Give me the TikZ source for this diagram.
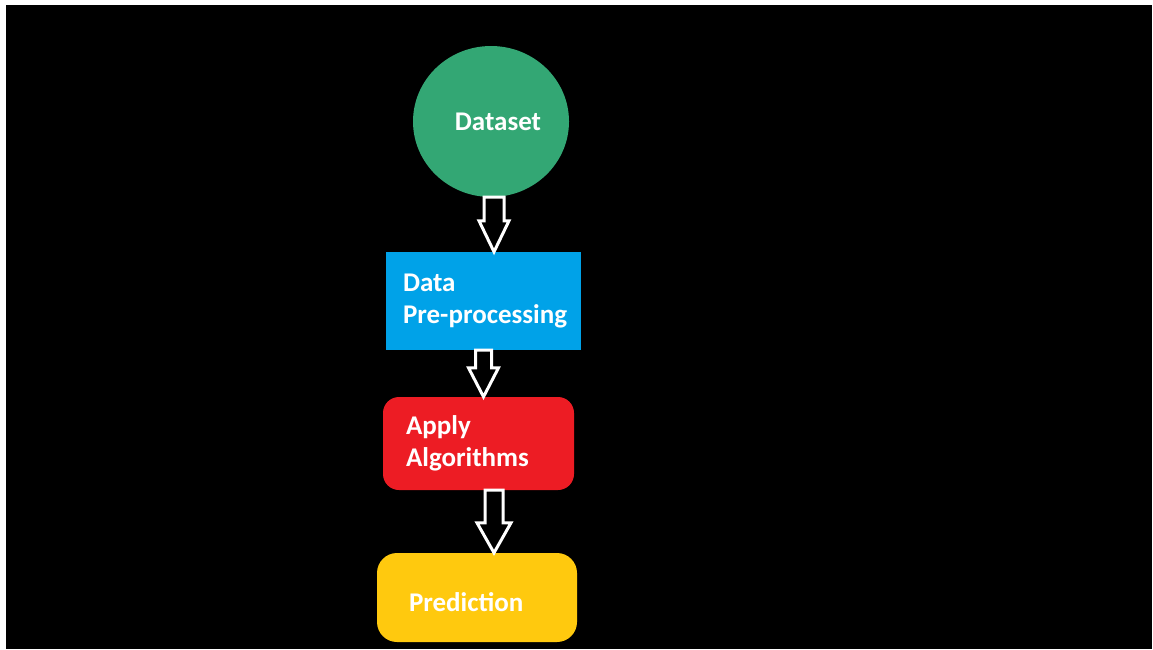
\documentclass[tikz,border=0pt]{standalone}
\usepackage{fontspec}
\setmainfont{Carlito}
\usepackage{tikz}
\usetikzlibrary{shapes.geometric,calc}

\definecolor{dsgreen}{RGB}{51,167,116}
\definecolor{ppblue}{RGB}{0,162,232}
\definecolor{alred}{RGB}{237,28,36}
\definecolor{prdyellow}{RGB}{255,201,14}

\tikzset{
  boxtext/.style={text=white,font=\fontsize{27}{32}\selectfont\bfseries,inner sep=0pt},
  blockarr/.style={draw=white,fill=black,line width=3pt,line join=miter}
}

% block arrow: from node, to node, x offset, shaft half width, head half width, head length
\newcommand{\blockarrow}[6]{%
  \draw[blockarr] let \p1=(#1), \p2=(#2) in
    (\x1+#3-#4,\y1) -- (\x1+#3-#4,\y2+#6) -- (\x1+#3-#5,\y2+#6) -- (\x1+#3,\y2)
    -- (\x1+#3+#5,\y2+#6) -- (\x1+#3+#4,\y2+#6) -- (\x1+#3+#4,\y1) -- cycle;
}

\begin{document}
\begin{tikzpicture}[x=1pt,y=-1pt]
\useasboundingbox (0,0) rectangle (1153,649);
\fill[white] (0,0) rectangle (1153,649);
\fill[black] (6,5) rectangle (1152,649);

%Shape: Circle
\node (ds) [ellipse,fill=dsgreen,minimum width=156pt,minimum height=151pt,boxtext] at (491,121.5) {\hspace*{14pt}Dataset};
%Shape: Rectangle
\node (pre) [fill=ppblue,minimum width=195pt,minimum height=98pt,boxtext,align=left,text width=161pt] at (483.5,301) {Data\\\makebox[0pt][l]{Pre-processing}};
%Rounded Rect
\node (alg) [fill=alred,rounded corners=16pt,minimum width=191pt,minimum height=93pt,boxtext,align=left,text width=145pt] at (478.5,443.5) {Apply\\Algorithms};
%Rounded Rect
\node (prd) [fill=prdyellow,rounded corners=20pt,minimum width=200pt,minimum height=89pt,boxtext,align=left,text width=136pt] at (477,597.5) {\raisebox{-14pt}[0pt][0pt]{Prediction}};

%Block Arrows
\blockarrow{ds.south}{pre.north}{3pt}{10pt}{15pt}{31pt}
\blockarrow{pre.south}{alg.north}{0pt}{8pt}{15pt}{29pt}
\blockarrow{alg.south}{prd.north}{15.5pt}{9pt}{17pt}{30pt}

\end{tikzpicture}
\end{document}
